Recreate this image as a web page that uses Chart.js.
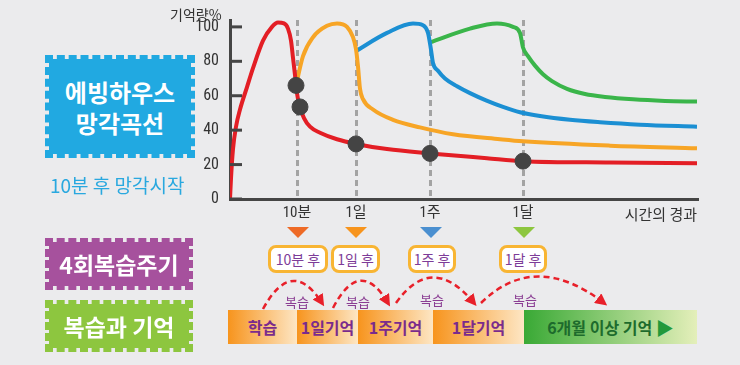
<!DOCTYPE html>
<html>
<head>
<meta charset="utf-8">
<script src="https://cdn.jsdelivr.net/npm/chart.js@4.4.1/dist/chart.umd.min.js"></script>
<style>
  body { margin: 0; background: #ebebed; }
  #wrap { position: relative; width: 740px; height: 365px; overflow: hidden; background: #ebebed;
          font-family: "Noto Sans CJK KR", "Noto Sans", sans-serif; }
  #chart { position: absolute; left: 150px; top: 0; }
  .abs { position: absolute; white-space: nowrap; }
  .stamp { position: absolute; box-sizing: border-box; border: 4px dashed; background-clip: padding-box;
           color: #fff; font-weight: bold; text-align: center; display: flex; align-items: center; justify-content: center; }
  .tag { position: absolute; box-sizing: border-box; border: 3px solid #f8b533; border-radius: 8px; background: #fff;
         color: #7d3c98; font-size: 14px; display: flex; align-items: center; justify-content: center; height: 28px; top: 245px; }
  .seg { position: absolute; top: 310px; height: 34px; display: flex; align-items: center; justify-content: center;
         font-size: 16px; font-weight: bold; color: #7a2b8c; }
  .rev { position: absolute; font-size: 13px; color: #8a3d93; transform: translate(-50%, -50%); }
</style>
</head>
<body>
<div id="wrap">
  <canvas id="chart" width="557" height="225"></canvas>

  <div class="abs" style="left:170px; top:4px; font-size:14px; color:#333;">기억량%</div>
  <div class="abs" style="right:43px; top:203px; font-size:15px; color:#333;">시간의 경과</div>

  <div class="stamp" style="left:45px; top:55px; width:150px; height:103px; background-color:#21a9e1; border-color:#21a9e1; font-size:24px; line-height:31px;">에빙하우스<br>망각곡선</div>
  <div class="abs" style="left:50px; top:171px; font-size:19px; color:#29a8df;">10분 후 망각시작</div>
  <div class="stamp" style="left:45px; top:238px; width:148px; height:52px; background-color:#a6519d; border-color:#a6519d; font-size:23px;">4회복습주기</div>
  <div class="stamp" style="left:45px; top:300px; width:148px; height:52px; background-color:#8dc63f; border-color:#8dc63f; font-size:23px;">복습과 기억</div>

  <div class="tag" style="left:268px; width:60px;">10분 후</div>
  <div class="tag" style="left:331px; width:49px;">1일 후</div>
  <div class="tag" style="left:408px; width:48px;">1주 후</div>
  <div class="tag" style="left:499px; width:48px;">1달 후</div>

  <div class="seg" style="left:228px; width:69px; background:linear-gradient(to right,#f7941d,#fde6c4);">학습</div>
  <div class="seg" style="left:297px; width:61px; background:linear-gradient(to right,#f7941d,#fde6c4);">1일기억</div>
  <div class="seg" style="left:358px; width:75px; background:linear-gradient(to right,#f7941d,#fde6c4);">1주기억</div>
  <div class="seg" style="left:433px; width:91px; background:linear-gradient(to right,#f7941d,#fde6c4);">1달기억</div>
  <div class="seg" style="left:524px; width:173px; background:linear-gradient(to right,#39a935,#e4efba); color:#1d6b2c;">6개월 이상 기억&nbsp;<span style="color:#22993a; font-size:18px;">▶</span></div>

  <svg class="abs" style="left:0; top:0;" width="740" height="365">
    <defs>
      <marker id="ah" markerWidth="12" markerHeight="12" refX="8" refY="6" orient="auto" markerUnits="userSpaceOnUse">
        <path d="M0,0 L12,6 L0,12 Z" fill="#e8202a"/>
      </marker>
    </defs>
    <polygon points="287,227 309,227 298,238" fill="#ee6a26"/>
    <polygon points="345,227 367,227 356,238" fill="#f7941d"/>
    <polygon points="420,227 442,227 431,238" fill="#4a8fd0"/>
    <polygon points="513,227 535,227 524,238" fill="#8dc63f"/>
    <g fill="none" stroke="#e8202a" stroke-width="2.5" stroke-dasharray="6,4">
      <path d="M263,309 Q292,256 322,303" marker-end="url(#ah)"/>
      <path d="M333,308 Q360,256 388,303" marker-end="url(#ah)"/>
      <path d="M396,303 Q432,252 474,303" marker-end="url(#ah)"/>
      <path d="M481,303 Q535,250 604,303" marker-end="url(#ah)"/>
    </g>
  </svg>
  <div class="rev" style="left:297px; top:301px;">복습</div>
  <div class="rev" style="left:358px; top:301px;">복습</div>
  <div class="rev" style="left:432px; top:299px;">복습</div>
  <div class="rev" style="left:525px; top:299px;">복습</div>
</div>

<script>
// time axis positions (arbitrary units)
const markTimes = [67, 126, 200, 293];
const markLabels = ['10분', '1일', '1주', '1달'];
const yTicks = [0, 20, 40, 60, 80, 100];

// forgetting curves: [time, memory %]
const redCurve = [[0,0],[1,12],[3,29],[6,42],[10,52],[17,65],[23,76],[33,92],[42,100],[48,102.5],[54,102],[58,99],[61,92],[63,82],[65,72],[66,66],[68,58],[70,53.5],[74,47],[80,42],[90,38.5],[107,34.7],[126,32],[157,29],[200,26.5],[257,23.7],[293,22],[380,21.2],[467,20.8]];
const orangeCurve = [[66,66],[73,83],[83,94],[97,100.6],[107,102],[117,100],[123,94],[126,87],[128,77],[130,64],[133,58],[143,52],[163,46],[190,41.6],[223,37.6],[270,34.7],[293,33.5],[380,31],[467,29.5]];
const blueCurve = [[126,86],[157,96.5],[183,102],[193,101],[198,96.5],[201,86.7],[203,79],[208,74.5],[215,70],[227,65.5],[240,61.5],[256,57.3],[273,53.5],[290,50.4],[310,48.2],[340,46],[370,44.6],[410,43.2],[467,42]];
const greenCurve = [[200,91],[240,99],[267,102],[283,100],[290,96.5],[293,88],[298,83],[305,77.5],[313,72.5],[322,68.5],[337,64],[355,61],[375,59.3],[403,57.9],[435,57],[467,56.6]];
const reviewDots = [[66,66],[70,53.5],[126,32],[200,26.5],[293,22]];

const toXY = arr => arr.map(p => ({ x: p[0], y: p[1] }));

function curve(data, color) {
    return {
        type: 'line',
        data: toXY(data),
        borderColor: color,
        borderWidth: 4,
        pointRadius: 0,
        cubicInterpolationMode: 'monotone',
        fill: false
    };
}

// short tick marks pointing into the plot
const innerTicks = {
    id: 'innerTicks',
    afterDatasetsDraw(chart) {
        const { ctx, chartArea, scales } = chart;
        ctx.save();
        ctx.strokeStyle = '#454545';
        ctx.lineWidth = 3;
        yTicks.forEach(v => {
            const y = scales.y.getPixelForValue(v);
            ctx.beginPath();
            ctx.moveTo(chartArea.left, y);
            ctx.lineTo(chartArea.left + 12, y);
            ctx.stroke();
        });
        ctx.restore();
    }
};

const tickFont = { family: '"Liberation Sans Narrow", "Roboto Condensed", "Noto Sans CJK KR", sans-serif', size: 16 };

new Chart(document.getElementById('chart').getContext('2d'), {
    data: {
        datasets: [
            {
                type: 'scatter',
                data: toXY(reviewDots),
                backgroundColor: '#444',
                borderColor: '#444',
                pointRadius: 8,
                pointHoverRadius: 8,
                order: 0
            },
            Object.assign(curve(greenCurve, '#3ab54a'), { order: 4 }),
            Object.assign(curve(blueCurve, '#1b8fd3'), { order: 3 }),
            Object.assign(curve(orangeCurve, '#f7a526'), { order: 2 }),
            Object.assign(curve(redCurve, '#e31e25'), { order: 1 })
        ]
    },
    options: {
        responsive: false,
        animation: false,
        layout: { padding: { top: 20, right: 10, left: 0, bottom: 0 } },
        plugins: { legend: { display: false }, tooltip: { enabled: false } },
        scales: {
            x: {
                type: 'linear',
                min: 0,
                max: 467,
                afterBuildTicks: s => { s.ticks = markTimes.map(v => ({ value: v })); },
                afterFit: s => { s.height = 26; },
                ticks: {
                    autoSkip: false,
                    maxRotation: 0,
                    padding: 5,
                    color: '#333',
                    font: { family: tickFont.family, size: 15 },
                    callback: v => markLabels[markTimes.indexOf(v)]
                },
                grid: { color: '#a3a3a3', lineWidth: 3, drawTicks: false },
                border: { color: '#454545', width: 3, dash: [6, 4] }
            },
            y: {
                min: 0,
                max: 104,
                afterBuildTicks: s => { s.ticks = yTicks.map(v => ({ value: v })); },
                afterFit: s => { s.width = 80; },
                ticks: { color: '#333', font: tickFont, padding: 3 },
                grid: { display: false },
                border: { color: '#454545', width: 3 }
            }
        }
    },
    plugins: [innerTicks]
});
</script>
</body>
</html>
